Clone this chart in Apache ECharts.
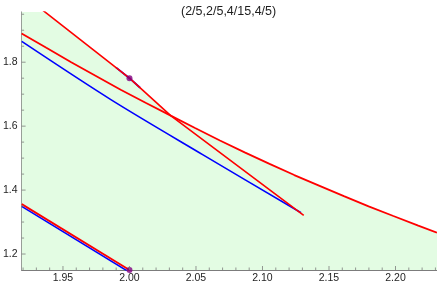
<!DOCTYPE html>
<html><head><meta charset="utf-8">
<script src="https://cdn.jsdelivr.net/npm/echarts@6/dist/echarts.min.js"></script>
<style>html,body{margin:0;padding:0;background:#fff}#c{width:437px;height:284px}</style>
</head><body><div id="c"></div>
<script>
const chartTitle = "(2/5,2/5,4/15,4/5)";
const xRange = [1.9189, 2.2312];
const yRange = [1.15, 1.957];
const xMajorTicks = [1.95, 2.00, 2.05, 2.10, 2.15, 2.20];
const xMinorTicks = [1.92,1.93,1.94,1.96,1.97,1.98,1.99,2.01,2.02,2.03,2.04,2.06,2.07,2.08,2.09,2.11,2.12,2.13,2.14,2.16,2.17,2.18,2.19,2.21,2.22,2.23];
const yMajorTicks = [1.2, 1.4, 1.6, 1.8];
const yMinorTicks = [1.25,1.3,1.35,1.45,1.5,1.55,1.65,1.7,1.75,1.85,1.9,1.95];

const redSteep = [[1.919,2.014],[2.0,1.75],[2.031,1.633],[2.131,1.321]];
const redCurve = [[1.9189,1.890],[1.9375,1.845],[1.9562,1.800],[1.9748,1.757],[1.9934,1.714],[2.0121,1.673],[2.031,1.633],[2.0493,1.594],[2.068,1.555],[2.0866,1.518],[2.1053,1.482],[2.1239,1.447],[2.1425,1.414],[2.1612,1.381],[2.1798,1.349],[2.1984,1.319],[2.2171,1.289],[2.2312,1.267]];
const blueUpper = [[1.919,1.865],[1.986,1.683],[2.055,1.511],[2.129,1.329]];
const blueShort = [[1.990,1.783],[2.0,1.75],[2.008,1.720]];
const redLower = [[1.919,1.356],[2.0,1.15]];
const blueLower = [[1.919,1.349],[1.998,1.148]];
const purplePoints = [[2.0,1.75],[2.0,1.15]];

// region boundary: steep red up to the crossing, then the curved red
const crossX = redSteep[2][0];
const fillBoundary = redSteep.filter(p => p[0] <= crossX).concat(redCurve.filter(p => p[0] > crossX));

const axisColor = '#7c7c7c';
const labelStyle = {color:'#1e1e1e', fontSize:10.5, fontFamily:'Liberation Sans, Arial, sans-serif'};

function tickSeries(values, axis, len){
  // tick marks drawn through the axis scales, pointing into the plot
  const data = values.map(v => axis === 'x' ? [v, yRange[0]] : [xRange[0], v]);
  return {type:'scatter', data:data, symbol:'rect', silent:true, z:5, clip:false,
    symbolSize: axis === 'x' ? [1, len] : [len, 1],
    symbolOffset: axis === 'x' ? [0, -len/2] : [len/2, 0],
    itemStyle:{color:axisColor}};
}

const chart = echarts.init(document.getElementById('c'), null, {renderer:'canvas'});
chart.setOption({
  animation:false,
  backgroundColor:'#ffffff',
  title:{text:chartTitle, left:176, top:0,
    textStyle:{color:'#1e1e1e', fontSize:12.5, fontWeight:'normal', fontFamily:'Liberation Sans, Arial, sans-serif'}},
  grid:{left:18, right:0, top:12, bottom:13, containLabel:false},
  xAxis:{type:'value', min:xRange[0], max:xRange[1], splitLine:{show:false},
     axisLine:{show:true, onZero:false, lineStyle:{color:axisColor, width:1}},
     axisTick:{show:false},
     axisLabel:{show:true, customValues:xMajorTicks, margin:3, formatter:v=>v.toFixed(2), ...labelStyle}},
  yAxis:{type:'value', min:yRange[0], max:yRange[1], splitLine:{show:false},
     axisLine:{show:true, onZero:false, lineStyle:{color:axisColor, width:1}},
     axisTick:{show:false},
     axisLabel:{show:true, customValues:yMajorTicks, margin:4, formatter:v=>v.toFixed(1), ...labelStyle}},
  series:[
    {type:'line', data:fillBoundary, symbol:'none', silent:true, z:1, clip:true,
     lineStyle:{width:0}, areaStyle:{color:'#e3fce3', opacity:1, origin:'start'}},
    {type:'line', data:blueUpper, symbol:'none', z:2, clip:true, smooth:0.3,
     lineStyle:{color:'#0000ff', width:1.6}},
    {type:'line', data:blueShort, symbol:'none', z:2, clip:true,
     lineStyle:{color:'#0000ff', width:1.8}},
    {type:'line', data:blueLower, symbol:'none', z:2, clip:true,
     lineStyle:{color:'#0000ff', width:1.6}},
    {type:'line', data:redCurve, symbol:'none', z:3, clip:true,
     lineStyle:{color:'#ff0000', width:1.8}},
    {type:'line', data:redSteep, symbol:'none', z:3, clip:true,
     lineStyle:{color:'#ff0000', width:1.6}},
    {type:'line', data:redLower, symbol:'none', z:3, clip:true,
     lineStyle:{color:'#ff0000', width:1.8}},
    {type:'scatter', data:purplePoints, symbol:'circle', symbolSize:6, z:4, clip:false,
     itemStyle:{color:'#800080'}},
    tickSeries(xMajorTicks, 'x', 4),
    tickSeries(xMinorTicks, 'x', 2.5),
    tickSeries(yMajorTicks, 'y', 4),
    tickSeries(yMinorTicks, 'y', 2.5)
  ]
});
</script></body></html>
